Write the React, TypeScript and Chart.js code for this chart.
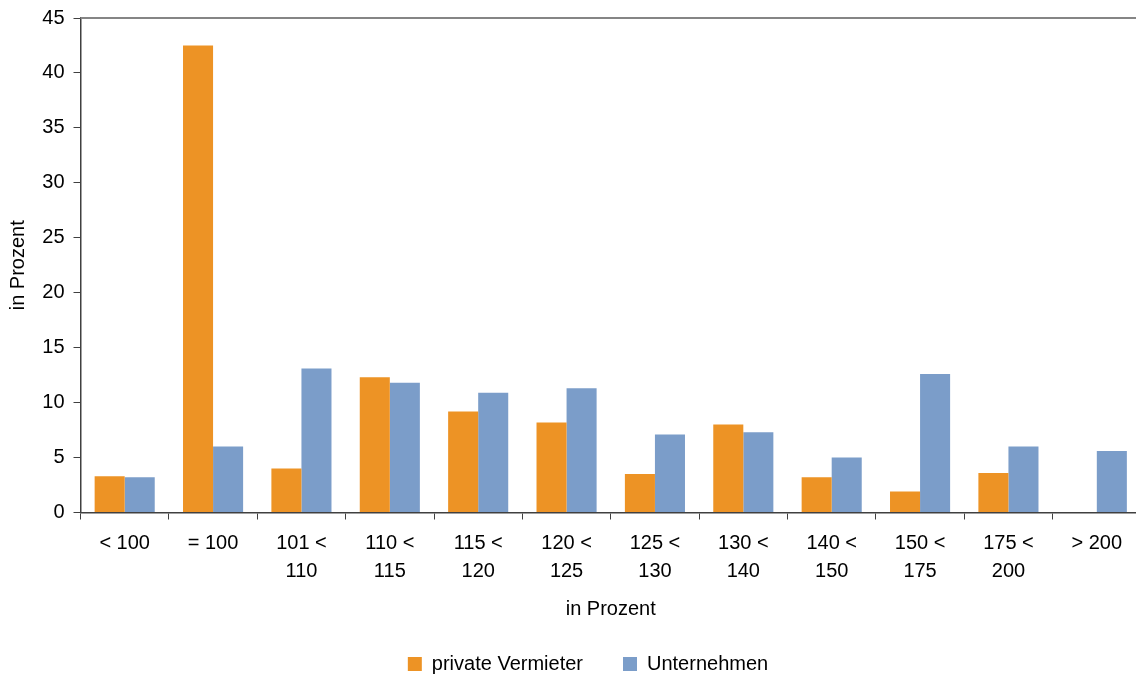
import React, { useEffect, useRef } from "react";
import { Chart, registerables } from "chart.js";

Chart.register(...registerables);

const categories: string[][] = [
  ["< 100"],
  ["= 100"],
  ["101 <", "110"],
  ["110 <", "115"],
  ["115 <", "120"],
  ["120 <", "125"],
  ["125 <", "130"],
  ["130 <", "140"],
  ["140 <", "150"],
  ["150 <", "175"],
  ["175 <", "200"],
  ["> 200"],
];

const privateVermieter: (number | null)[] = [3.3, 42.5, 4.0, 12.3, 9.2, 8.2, 3.5, 8.0, 3.2, 1.9, 3.6, null];
const unternehmen: number[] = [3.2, 6.0, 13.1, 11.8, 10.9, 11.3, 7.1, 7.3, 5.0, 12.6, 6.0, 5.6];

const seriesNames = ["private Vermieter", "Unternehmen"];
const yTitle = "in Prozent";
const xTitle = "in Prozent";

const FONT = "'Liberation Sans', Arial, sans-serif";
const PAD_BOTTOM = -9;

const topBorder = {
  id: "topBorder",
  afterDraw(chart: any) {
    const { ctx, chartArea } = chart;
    ctx.save();
    ctx.strokeStyle = "#858585";
    ctx.lineWidth = 2;
    ctx.beginPath();
    ctx.moveTo(chartArea.left, chartArea.top);
    ctx.lineTo(chartArea.right + 10, chartArea.top);
    ctx.stroke();
    ctx.restore();
  },
};

export default function App() {
  const ref = useRef<HTMLCanvasElement>(null);

  useEffect(() => {
    if (!ref.current) return;
    const chart = new Chart(ref.current, {
      type: "bar",
      data: {
        labels: categories,
        datasets: [
          {
            label: seriesNames[0],
            data: privateVermieter,
            backgroundColor: "#ED9325",
            categoryPercentage: 0.68,
            barPercentage: 1.0,
          },
          {
            label: seriesNames[1],
            data: unternehmen,
            backgroundColor: "#7B9DC9",
            categoryPercentage: 0.68,
            barPercentage: 1.0,
          },
        ],
      },
      options: {
        animation: false,
        responsive: true,
        maintainAspectRatio: false,
        layout: { padding: { top: 18, bottom: PAD_BOTTOM, left: 0, right: 0 } },
        plugins: {
          tooltip: { enabled: false },
          legend: {
            position: "bottom",
            labels: {
              boxWidth: 14,
              boxHeight: 14,
              padding: 40,
              color: "#000",
              font: { family: FONT, size: 20 },
            },
          },
        },
        scales: {
          x: {
            offset: true,
            grid: {
              offset: true,
              drawOnChartArea: false,
              drawTicks: true,
              tickLength: 7,
              color: "#404040",
            },
            border: { display: true, color: "#404040", width: 1.5 },
            ticks: {
              color: "#000",
              font: { family: FONT, size: 20, lineHeight: 1.4 },
              maxRotation: 0,
              autoSkip: false,
              padding: 10,
            },
            title: {
              display: true,
              text: xTitle,
              color: "#000",
              font: { family: FONT, size: 20 },
              padding: { top: 0, bottom: -7 },
            },
            afterFit: (s: any) => {
              const lh = s.chart.legend ? s.chart.legend.height : 60;
              s.height = 675 - PAD_BOTTOM - lh - 512.5;
              s.paddingLeft = 0;
              s.paddingRight = 0;
            },
          },
          y: {
            min: 0,
            max: 45,
            ticks: {
              stepSize: 5,
              color: "#000",
              font: { family: FONT, size: 20 },
              padding: 9,
            },
            grid: {
              drawOnChartArea: false,
              drawTicks: true,
              tickLength: 7,
              color: "#404040",
            },
            border: { display: true, color: "#404040", width: 1.5 },
            title: {
              display: true,
              text: yTitle,
              color: "#000",
              font: { family: FONT, size: 20 },
              padding: { top: 6, bottom: 0 },
            },
            afterFit: (s: any) => {
              s.width = 80.5;
              s.paddingTop = 0;
              s.paddingBottom = 0;
            },
          },
          y2: {
            type: "linear",
            position: "right",
            display: true,
            grid: { display: false },
            ticks: { display: false },
            border: { display: false },
            afterFit: (s: any) => {
              s.width = 35;
              s.paddingTop = 0;
              s.paddingBottom = 0;
            },
          },
        },
      },
      plugins: [topBorder],
    });
    return () => chart.destroy();
  }, []);

  return (
    <div
      style={{
        position: "fixed",
        left: 0,
        top: 0,
        width: 1136,
        height: 675,
        overflow: "hidden",
        background: "#fff",
      }}
    >
      <div style={{ position: "relative", width: 1176, height: 675 }}>
        <canvas ref={ref} />
      </div>
    </div>
  );
}
